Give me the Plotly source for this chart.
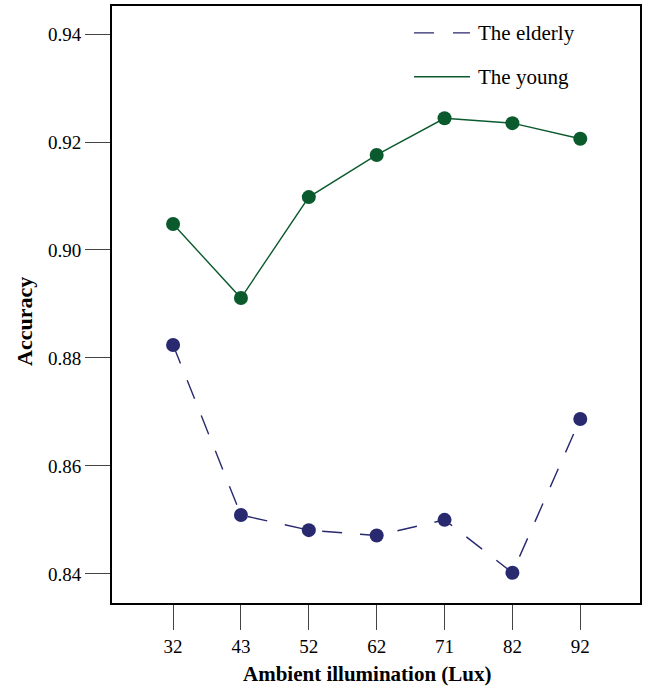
import plotly.graph_objects as go

lux = ["32", "43", "52", "62", "71", "82", "92"]
young = [0.9048, 0.8911, 0.9098, 0.9176, 0.9244, 0.9235, 0.9206]
elderly = [0.8824, 0.8509, 0.8481, 0.8471, 0.8500, 0.8402, 0.8687]
y_ticks = [0.84, 0.86, 0.88, 0.90, 0.92, 0.94]
y_tick_text = ["0.84", "0.86", "0.88", "0.90", "0.92", "0.94"]

C_OLD = "#28296f"
C_YOUNG = "#0b5a2e"
FONT = "Liberation Serif"

W, H = 649, 688
L, R, T, B = 112, 9, 4, 85
pw, ph = W - L - R, H - T - B

def px(x):
    return (x - L) / pw

def py(y):
    return (H - B - y) / ph

fig = go.Figure()
fig.add_trace(go.Scatter(
    x=lux, y=elderly, mode="lines+markers", name="The elderly",
    line=dict(color=C_OLD, width=1.4, dash="20px,18px"),
    marker=dict(color=C_OLD, size=14), showlegend=False))
fig.add_trace(go.Scatter(
    x=lux, y=young, mode="lines+markers", name="The young",
    line=dict(color=C_YOUNG, width=1.4),
    marker=dict(color=C_YOUNG, size=14), showlegend=False))

fig.update_layout(
    width=W, height=H,
    margin=dict(l=L, r=R, t=T, b=B),
    plot_bgcolor="white", paper_bgcolor="white",
    font=dict(family=FONT, size=19, color="black"),
    xaxis=dict(type="category", range=[-0.9, 6.88], showgrid=False, zeroline=False,
               showline=True, mirror=True, linecolor="black", linewidth=2,
               ticks="outside", ticklen=25, tickwidth=1.3, tickcolor="#444",
               tickfont=dict(family=FONT, size=19)),
    yaxis=dict(range=[0.8346, 0.9452], showgrid=False, zeroline=False,
               showline=True, mirror=True, linecolor="black", linewidth=2,
               ticks="outside", ticklen=25, tickwidth=1.3, tickcolor="#444",
               tickvals=y_ticks, ticktext=y_tick_text,
               tickfont=dict(family=FONT, size=19)),
)

# axis titles
fig.add_annotation(text="<b>Ambient illumination (Lux)</b>", xref="paper", yref="paper",
                   x=px(367), y=py(674), showarrow=False, xanchor="center", yanchor="middle",
                   font=dict(family=FONT, size=21))
fig.add_annotation(text="<b>Accuracy</b>", xref="paper", yref="paper",
                   x=px(25), y=py(321), showarrow=False, textangle=-90,
                   xanchor="center", yanchor="middle", font=dict(family=FONT, size=22))

# legend (manual)
legend_items = [("The elderly", C_OLD, "20px,19px", 31), ("The young", C_YOUNG, "solid", 75)]
for label, col, dash, yy in legend_items:
    fig.add_shape(type="line", xref="paper", yref="paper",
                  x0=px(414), x1=px(470), y0=py(yy), y1=py(yy),
                  line=dict(color=col, width=1.4, dash=dash))
    fig.add_annotation(text=label, xref="paper", yref="paper", x=px(476), y=py(yy),
                       showarrow=False, xanchor="left", yanchor="middle",
                       font=dict(family=FONT, size=21))

fig.write_html("out.html")
